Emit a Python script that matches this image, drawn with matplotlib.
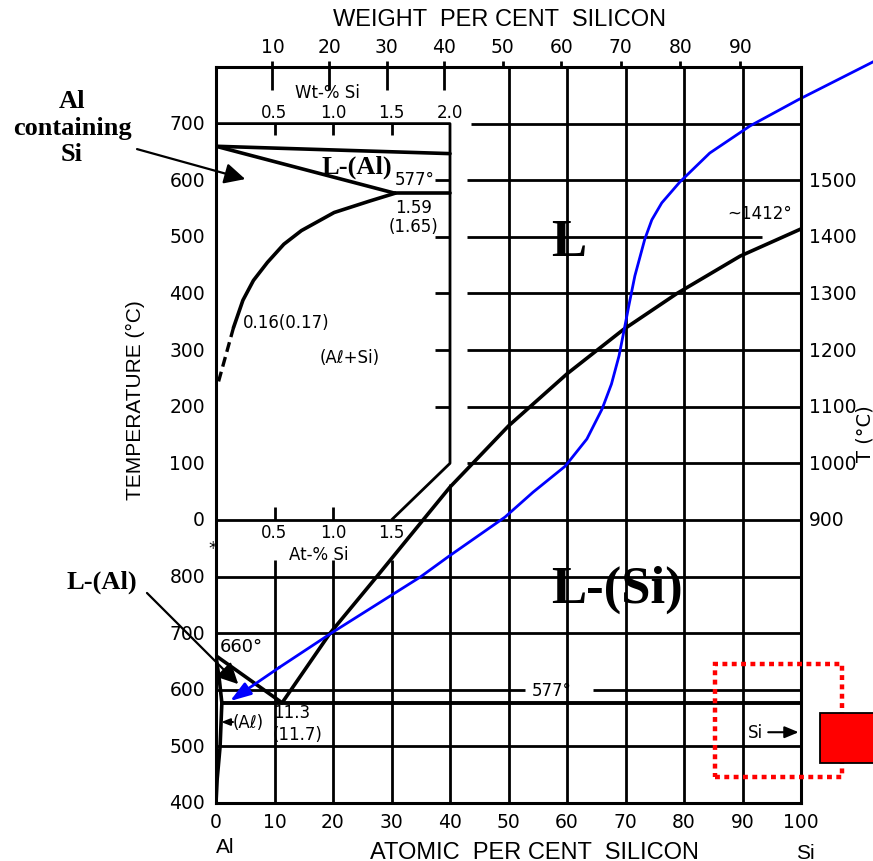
import numpy as np
import matplotlib
matplotlib.use("Agg")
import matplotlib.pyplot as plt
from matplotlib.patches import Rectangle

# ---- main diagram: at.% Si vs temperature (degC) ----
liq_al_x = [0, 11.3]
liq_al_t = [660, 577]
liq_si_x = [11.3, 19.5, 27.5, 35.4, 40.0, 50.0, 60.0, 69.6, 78.8, 89.6, 100]
liq_si_t = [577, 700, 800, 900, 958, 1066, 1158, 1236, 1300, 1366, 1414]
solvus_x = [0, 0.6, 1.0, 0.7, 0.2, 0.0]
solvus_t = [660, 615, 577, 500, 442, 400]
eut_x = [1.0, 100]
eut_t = [577, 577]

# ---- inset (Al-rich corner): % Si vs temperature ----
ins_liq_x = [0, 2.0]
ins_liq_t = [660, 647]
ins_sol_x = [0, 1.53]
ins_sol_t = [660, 577]
ins_eut_x = [1.53, 2.0]
ins_eut_t = [577, 577]
ins_solv_x = [1.53, 1.31, 1.01, 0.73, 0.58, 0.44, 0.32, 0.23, 0.18, 0.15]
ins_solv_t = [577, 563, 543, 511, 487, 455, 423, 388, 358, 340]
ins_dash_x = [0.15, 0.02]
ins_dash_t = [340, 243]

# ---- hand drawn blue curve (at.% Si, degC) ----
blue_x = [112.3, 99.5, 91.3, 84.4, 79.3, 76.2, 74.5, 73.3, 71.6, 70.6, 69.7,
          68.9, 67.6, 66.0, 63.4, 59.7, 54.2, 49.4, 39.7, 34.9, 20.0, 10.9, 2.4]
blue_t = [1709, 1642, 1596, 1548, 1497, 1460, 1430, 1396, 1331, 1280, 1232,
          1190, 1140, 1096, 1043, 995, 949, 905, 835, 799, 702, 640, 580]

# ---- tick labels ----
left_main = [400, 500, 600, 700, 800]
left_inset = [0, 100, 200, 300, 400, 500, 600, 700]
right_main = [900, 1000, 1100, 1200, 1300, 1400, 1500]
at_ticks = [0, 10, 20, 30, 40, 50, 60, 70, 80, 90, 100]
wt_ticks = [10, 20, 30, 40, 50, 60, 70, 80, 90]
ins_top = ["0.5", "1.0", "1.5", "2.0"]
ins_bot = ["0.5", "1.0", "1.5"]


def wt_to_at(w):
    a = w / 28.086
    return 100 * a / (a + (100 - w) / 26.982)


def ix(v):
    # inset % scale onto main at.% axis
    return 20 * np.asarray(v, dtype=float)


def it(t):
    # inset temperature onto main axis
    return np.asarray(t, dtype=float) + 900


SANS = "DejaVu Sans"
TITLE = "Liberation Sans"
SERIF = "Liberation Serif"

fig = plt.figure(figsize=(8.73, 8.62), dpi=100)
ax = fig.add_axes([216 / 873, 58 / 862, 585 / 873, 736 / 862])
ax.set_xlim(0, 100)
ax.set_ylim(400, 1700)
ax.set_xticks([])
ax.set_yticks([])
for s in ax.spines.values():
    s.set_linewidth(2.2)

G = dict(color="k", lw=2.0, solid_capstyle="butt")
C = dict(color="k", lw=2.6, solid_capstyle="round", solid_joinstyle="round")

# grid, lower part
for t in [500, 700, 800, 900]:
    ax.plot([0, 100], [t, t], **G)
ax.plot([0, 52.8], [600, 600], **G)
ax.plot([64.4, 100], [600, 600], **G)
for x in [10, 20, 30]:
    ax.plot([x, x], [400, 830], **G)
ax.plot([40, 40], [400, 963], **G)
for x in [50, 60, 70, 80, 90]:
    ax.plot([x, x], [400, 1700], **G)
# grid, upper part
for t in [1000, 1100, 1200, 1300, 1500]:
    ax.plot([42.9, 100], [t, t], **G)
ax.plot([42.9, 93.3], [1400, 1400], **G)
ax.plot([43.6, 100], [1600, 1600], **G)

# top weight-% ticks
for w in wt_ticks:
    xp = wt_to_at(w)
    lo = 1660 if w <= 40 else 1700
    ax.plot([xp, xp], [lo, 1711], clip_on=False, **G)
    ax.text(xp, 1737, str(w), ha="center", va="center", fontsize=13.5, family=SANS)

# phase boundaries
ax.plot(liq_al_x, liq_al_t, **C)
ax.plot(liq_si_x, liq_si_t, **C)
ax.plot(solvus_x, solvus_t, **C)
ax.plot(eut_x, eut_t, color="k", lw=2.8)

# inset frame
ax.plot(ix([0, 2.0, 2.0, 1.5]), it([700, 700, 100, 0]), **G)
for t in [200, 300, 400, 500, 600]:
    ax.plot(ix([1.87, 2.0]), it([t, t]), **G)
for v in [0.5, 1.0, 1.5]:
    ax.plot(ix([v, v]), it([700, 680]), **G)
for v in [0.5, 1.0]:
    ax.plot(ix([v, v]), it([0, 23]), **G)

# inset curves
ax.plot(ix(ins_liq_x), it(ins_liq_t), **C)
ax.plot(ix(ins_sol_x), it(ins_sol_t), **C)
ax.plot(ix(ins_eut_x), it(ins_eut_t), **C)
ax.plot(ix(ins_solv_x), it(ins_solv_t), **C)
ax.plot(ix(ins_dash_x), it(ins_dash_t), color="k", lw=2.4, ls=(0, (3, 1.6)))

# tick labels
for t in left_main:
    ax.text(-1.9, t, str(t), ha="right", va="center", fontsize=13.5, family=SANS)
for t in left_inset:
    ax.text(-1.9, t + 900, str(t), ha="right", va="center", fontsize=13.5, family=SANS)
for t in right_main:
    ax.text(101.4, t, str(t), ha="left", va="center", fontsize=13.5, family=SANS)
for x in at_ticks:
    ax.text(x, 368, str(x), ha="center", va="center", fontsize=13.5, family=SANS)
for v, s in zip([0.5, 1.0, 1.5, 2.0], ins_top):
    ax.text(ix(v), it(721), s, ha="center", va="center", fontsize=12, family=SANS)
for v, s in zip([0.5, 1.0, 1.5], ins_bot):
    ax.text(ix(v), 879, s, ha="center", va="center", fontsize=12, family=SANS)

# axis titles
ax.text(48.5, 1785, "WEIGHT  PER CENT  SILICON", ha="center", va="center",
        fontsize=17, family=TITLE)
ax.text(54.5, 314, "ATOMIC  PER CENT  SILICON", ha="center", va="center",
        fontsize=17, family=TITLE)
ax.text(1.5, 323, "Al", ha="center", va="center", fontsize=15, family=TITLE)
ax.text(100.7, 313, "Si", ha="center", va="center", fontsize=15, family=TITLE)
ax.text(-13.8, 1114, "TEMPERATURE (°C)", ha="center", va="center", rotation=90,
        fontsize=15, family=TITLE)
ax.text(110.9, 1054, "T (°C)", ha="center", va="center", rotation=90,
        fontsize=14, family=SANS)

# small labels
small = dict(fontsize=12, family=SANS)
ax.text(ix(0.95), it(756), "Wt-% Si", ha="center", va="center", **small)
ax.text(17.5, 840, "At-% Si", ha="center", va="center", **small)
ax.text(34.0, it(602), "577°", ha="center", va="center", **small)
ax.text(33.7, it(553), "1.59", ha="center", va="center", **small)
ax.text(33.7, it(519), "(1.65)", ha="center", va="center", **small)
ax.text(4.6, it(349), "0.16(0.17)", ha="left", va="center", **small)
ax.text(22.9, it(287), "(Aℓ+Si)", ha="center", va="center", **small)
ax.text(0.7, 677, "660°", ha="left", va="center", fontsize=13, family=SANS)
ax.text(9.7, 561, "11.3", ha="left", va="center", **small)
ax.text(9.7, 522, "(11.7)", ha="left", va="center", **small)
ax.text(2.9, 543, "(Aℓ)", ha="left", va="center", **small)
ax.text(57.4, 600, "577°", ha="center", va="center", **small)
ax.text(93.0, 1443, "~1412°", ha="center", va="center", **small)
ax.text(92.2, 525, "Si", ha="center", va="center", **small)
ax.text(-0.5, 850, "*", ha="center", va="center", fontsize=12, family=SANS)
ax.annotate("", xy=(0.9, 543), xytext=(2.9, 543),
            arrowprops=dict(arrowstyle="-|>,head_length=0.5,head_width=0.2",
                            color="k", lw=1.5, mutation_scale=10,
                            shrinkA=0, shrinkB=0))
ax.annotate("", xy=(99.6, 525), xytext=(94.4, 525),
            arrowprops=dict(arrowstyle="-|>,head_length=0.6,head_width=0.25",
                            color="k", lw=1.5, mutation_scale=14,
                            shrinkA=0, shrinkB=0))

# big phase labels
big = dict(family=SERIF, fontweight="bold", ha="center", va="center")
ax.text(60.3, 1391, "L", fontsize=38, **big)
ax.text(68.5, 778, "L-(Si)", fontsize=38, **big)
ax.text(24.1, 1525, "L-(Al)", fontsize=19, **big)
ax.text(-24.6, 1594, "Al\ncontaining\nSi", fontsize=19, linespacing=1.2,
        multialignment="center", **big)
ax.text(-19.5, 792, "L-(Al)", fontsize=19, **big)

arrow_k = dict(arrowstyle="-|>,head_length=0.7,head_width=0.35", color="k",
               lw=1.6, mutation_scale=18, shrinkA=0, shrinkB=0)
ax.annotate("", xy=(5.0, 1502), xytext=(-13.5, 1555), arrowprops=arrow_k,
            annotation_clip=False)
ax.annotate("", xy=(3.8, 610), xytext=(-11.8, 771), arrowprops=arrow_k,
            annotation_clip=False)

# blue sketch curve with arrow
ax.plot(blue_x[:-1], blue_t[:-1], color="#0000ff", lw=2.0, clip_on=False,
        solid_joinstyle="round")
ax.annotate("", xy=(blue_x[-1], blue_t[-1]), xytext=(blue_x[-2], blue_t[-2]),
            arrowprops=dict(arrowstyle="-|>,head_length=0.9,head_width=0.3",
                            color="#0000ff", lw=2.0, mutation_scale=14,
                            shrinkA=0, shrinkB=0),
            annotation_clip=False)

# red markers
ax.add_patch(Rectangle((85.3, 446), 21.7, 199.6, fill=False, ec="red", lw=3.2,
                       ls=(0, (1.1, 1.0)), clip_on=False, zorder=5))
ax.add_patch(Rectangle((103.2, 471), 25, 88, fc="red", ec="k", lw=1.3,
                       clip_on=False, zorder=6))

fig.savefig("out.png", dpi=100)
